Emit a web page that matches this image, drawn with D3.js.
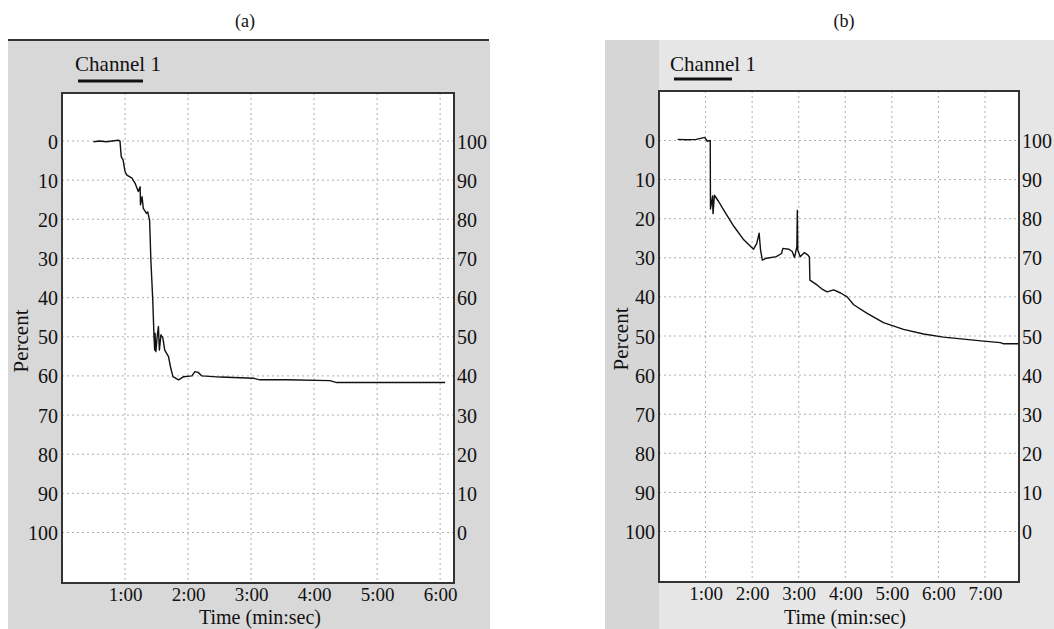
<!DOCTYPE html>
<html>
<head>
<meta charset="utf-8">
<script src="https://cdn.jsdelivr.net/npm/d3@7"></script>
<style>
  html, body { margin: 0; padding: 0; background: #fff; }
  svg { display: block; }
  text { font-family: "Liberation Serif", "Times New Roman", serif; fill: #111; }
</style>
</head>
<body>
<svg id="chart" width="1054" height="629"></svg>
<script>
// ---------- DATA ----------
const panelTitles = ["(a)", "(b)"];
const legendLabel = "Channel 1";
const yLabel = "Percent";
const xLabel = "Time (min:sec)";
const percentTicks = [0, 10, 20, 30, 40, 50, 60, 70, 80, 90, 100];
const minuteTicksA = [1, 2, 3, 4, 5, 6];
const minuteTicksB = [1, 2, 3, 4, 5, 6, 7];

// panel (a): time in minutes, value in percent (left axis)
const timeA = [0.50, 0.60, 0.70, 0.80, 0.89, 0.92, 0.94, 0.97, 1.00, 1.03, 1.11, 1.16, 1.21, 1.24, 1.245, 1.27, 1.29, 1.34, 1.36, 1.39, 1.40,
  1.41, 1.44, 1.46, 1.47, 1.476, 1.49, 1.51, 1.53, 1.545, 1.57, 1.60, 1.63, 1.69, 1.72, 1.76, 1.85, 1.93, 2.06, 2.11, 2.16, 2.22,
  2.51, 3.04, 3.14, 3.57, 4.25, 4.36, 4.52, 6.08];
const valueA = [0.2, 0.0, 0.2, 0.0, -0.2, 0.0, 4.0, 4.9, 7.8, 8.7, 9.5, 10.8, 12.9, 11.7, 16.3, 14.2, 17.2, 18.5, 18.1, 20.2, 25.3,
  30.4, 40.6, 50.0, 53.4, 49.1, 53.8, 50.0, 47.4, 53.4, 49.5, 50.3, 53.4, 55.1, 57.6, 60.2, 61.0, 60.2, 60.0, 58.9, 59.1, 60.0,
  60.3, 60.6, 61.0, 61.0, 61.2, 61.7, 61.7, 61.7];

// panel (b)
const timeB = [0.40, 0.60, 0.80, 0.98, 1.04, 1.10, 1.105, 1.15, 1.16, 1.19, 1.28, 1.39, 1.61, 1.82, 2.03, 2.10, 2.15, 2.18, 2.22, 2.31,
  2.52, 2.63, 2.66, 2.79, 2.86, 2.91, 2.96, 2.97, 2.98, 3.03, 3.12, 3.20, 3.23, 3.24, 3.40, 3.50, 3.61, 3.75, 3.90, 4.04, 4.18,
  4.47, 4.82, 5.25, 5.68, 6.11, 6.54, 6.97, 7.33, 7.40, 7.72];
const valueB = [-0.3, -0.2, -0.3, -0.8, 0.2, 0.0, 17.5, 14.2, 18.7, 14.0, 15.6, 17.8, 22.0, 25.4, 27.8, 26.3, 23.7, 28.0, 30.6, 30.1,
  29.7, 28.9, 27.6, 27.8, 28.4, 29.9, 27.2, 17.9, 28.0, 29.7, 28.7, 29.3, 29.9, 35.7, 37.0, 38.0, 38.7, 38.2, 39.0, 40.0, 42.0,
  44.2, 46.6, 48.3, 49.5, 50.3, 50.8, 51.3, 51.7, 52.0, 52.0];

// ---------- LAYOUT ----------
const svg = d3.select("#chart");
const fmtMin = m => m + ":00";

const panels = [
  { title: panelTitles[0], time: timeA, value: valueA, ticks: minuteTicksA, tMax: 6.22,
    left: 62, right: 454, top: 93, bottom: 583, y0: 141, y100: 532.5,
    bg: { x: 8, y: 41, w: 482, h: 588, fill: "#d8d8d8" }, rule: true,
    titleX: 245, legendX: 75, underline: [78, 143, 81], percentX: 28, percentY: 341, xLabelX: 260 },
  { title: panelTitles[1], time: timeB, value: valueB, ticks: minuteTicksB, tMax: 7.73,
    left: 659, right: 1019, top: 91, bottom: 582, y0: 140.5, y100: 531.5,
    bg: { x: 605, y: 40, w: 449, h: 589, fill: "#e6e6e6" }, rule: false,
    titleX: 844, legendX: 670, underline: [674, 732, 79], percentX: 628, percentY: 339, xLabelX: 845 }
];

panels.forEach((p, i) => {
  const g = svg.append("g");
  // background
  g.append("rect").attr("x", p.bg.x).attr("y", p.bg.y).attr("width", p.bg.w).attr("height", p.bg.h).attr("fill", p.bg.fill);
  if (i === 1) {
    g.append("rect").attr("x", 605).attr("y", 40).attr("width", p.left - 605).attr("height", 589).attr("fill", "#d6d6d6");
  }
  if (p.rule) {
    g.append("line").attr("x1", 8).attr("x2", 489).attr("y1", 40).attr("y2", 40).attr("stroke", "#333").attr("stroke-width", 2);
  }
  // title
  g.append("text").attr("x", p.titleX).attr("y", 27).attr("text-anchor", "middle").attr("font-size", 18).text(p.title);
  // legend
  g.append("text").attr("x", p.legendX).attr("y", 71).attr("font-size", 21).attr("textLength", 86).text(legendLabel);
  g.append("line").attr("x1", p.underline[0]).attr("x2", p.underline[1]).attr("y1", p.underline[2]).attr("y2", p.underline[2])
    .attr("stroke", "#111").attr("stroke-width", 3);

  const x = d3.scaleLinear().domain([0, p.tMax]).range([p.left, p.right]);
  const y = d3.scaleLinear().domain([0, 100]).range([p.y0, p.y100]);
  const yR = d3.scaleLinear().domain([100, 0]).range([p.y0, p.y100]);

  // plot area
  g.append("rect").attr("x", p.left).attr("y", p.top).attr("width", p.right - p.left).attr("height", p.bottom - p.top)
    .attr("fill", "#fff");

  // grid
  g.append("g").selectAll("line.h").data(percentTicks).join("line")
    .attr("x1", p.left).attr("x2", p.right).attr("y1", d => y(d)).attr("y2", d => y(d))
    .attr("stroke", "#9a9a9a").attr("stroke-width", 0.8).attr("stroke-dasharray", "2,3");
  g.append("g").selectAll("line.v").data(p.ticks).join("line")
    .attr("x1", d => x(d)).attr("x2", d => x(d)).attr("y1", p.top).attr("y2", p.bottom)
    .attr("stroke", "#9a9a9a").attr("stroke-width", 0.8).attr("stroke-dasharray", "2,3");

  // axes (labels only)
  const axL = g.append("g").attr("transform", `translate(${p.left - 4},0)`)
    .call(d3.axisLeft(y).tickValues(percentTicks).tickSize(0).tickPadding(0));
  const axR = g.append("g").attr("transform", `translate(${p.right + 3},0)`)
    .call(d3.axisRight(yR).tickValues(percentTicks).tickSize(0).tickPadding(0));
  const axB = g.append("g").attr("transform", `translate(0,${p.bottom + 18})`)
    .call(d3.axisBottom(x).tickValues(p.ticks).tickFormat(fmtMin).tickSize(0).tickPadding(0));
  [axL, axR, axB].forEach(a => {
    a.select(".domain").remove();
    a.selectAll("text").attr("font-size", 20).attr("fill", "#111")
      .style("font-family", '"Liberation Serif", "Times New Roman", serif');
  });
  axB.selectAll("text").attr("font-size", 19);
  axL.selectAll("text").attr("dy", "0.35em");
  axR.selectAll("text").attr("dy", "0.35em");
  axB.selectAll("text").attr("dy", "0");

  // frame
  g.append("rect").attr("x", p.left).attr("y", p.top).attr("width", p.right - p.left).attr("height", p.bottom - p.top)
    .attr("fill", "none").attr("stroke", "#333").attr("stroke-width", 2);

  // axis titles
  g.append("text").attr("transform", `translate(${p.percentX},${p.percentY}) rotate(-90)`)
    .attr("text-anchor", "middle").attr("font-size", 21).text(yLabel);
  g.append("text").attr("x", p.xLabelX).attr("y", 624).attr("text-anchor", "middle").attr("font-size", 20).text(xLabel);

  // data line
  const pts = p.time.map((t, k) => [t, p.value[k]]);
  g.append("path").datum(pts)
    .attr("d", d3.line().x(d => x(d[0])).y(d => y(d[1])))
    .attr("fill", "none").attr("stroke", "#111").attr("stroke-width", 1.4).attr("stroke-linejoin", "round");
});
</script>
</body>
</html>
